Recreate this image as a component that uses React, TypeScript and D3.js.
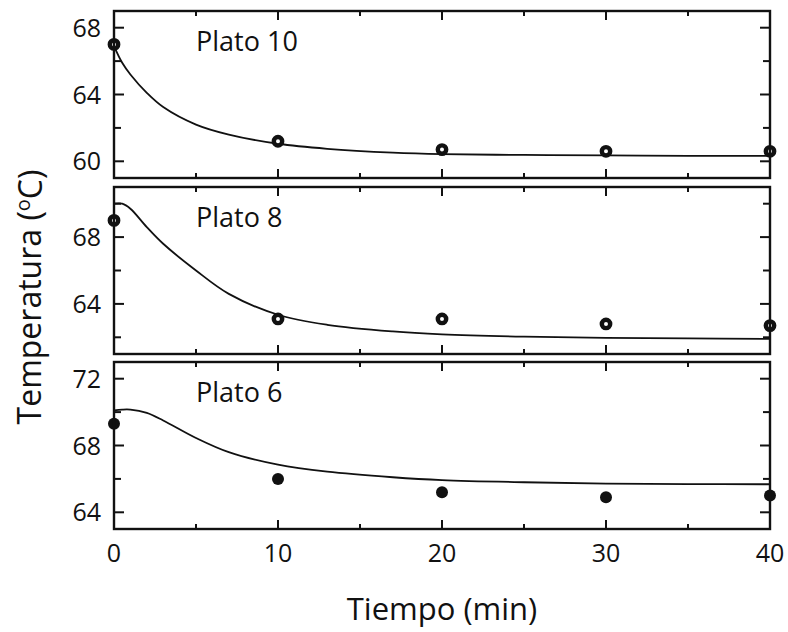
import React from 'react';
import * as d3 from 'd3';

// observed temperatures (markers)
const sampleTimes = [0, 10, 20, 30, 40];
const plato10Obs = [67.0, 61.2, 60.7, 60.6, 60.6];
const plato8Obs = [69.0, 63.1, 63.1, 62.8, 62.7];
const plato6Obs = [69.3, 66.0, 65.2, 64.9, 65.0];

// simulated profile (solid line)
const curveTimes = [0, 0.5, 1, 2, 3, 5, 7, 10, 13, 17, 20, 25, 30, 35, 40];
const plato10Model = [66.9, 65.9, 65.2, 64.1, 63.25, 62.2, 61.6, 61.05, 60.75, 60.52, 60.43, 60.38, 60.35, 60.33, 60.32];
const plato8Model = [70.0, 70.0, 69.7, 68.6, 67.6, 66.0, 64.6, 63.35, 62.75, 62.35, 62.18, 62.04, 61.97, 61.93, 61.9];
const plato6Model = [70.1, 70.15, 70.15, 69.95, 69.5, 68.45, 67.6, 66.85, 66.43, 66.1, 65.93, 65.8, 65.72, 65.69, 65.68];

const xTickLabels = [0, 10, 20, 30, 40];

const panels = [
  { label: 'Plato 10', domain: [59, 69], major: [60, 64, 68], minor: [62, 66], obs: plato10Obs, model: plato10Model, filled: false, top: 11 },
  { label: 'Plato 8', domain: [61, 71], major: [64, 68], minor: [62, 66, 70], obs: plato8Obs, model: plato8Model, filled: false, top: 187 },
  { label: 'Plato 6', domain: [63, 73], major: [64, 68, 72], minor: [66, 70], obs: plato6Obs, model: plato6Model, filled: true, top: 362 },
];

const W = 788;
const H = 632;
const left = 114;
const right = 770;
const panelH = 167;
const font = '"Open Sans", sans-serif';

const x = d3.scaleLinear().domain([0, 40]).range([left, right]);

const Panel = ({ p }: { p: typeof panels[number] }) => {
  const y = d3.scaleLinear().domain(p.domain).range([p.top + panelH, p.top]);
  const line = d3.line<number>()
    .x((_, i) => x(curveTimes[i]))
    .y(d => y(d))
    .curve(d3.curveCatmullRom.alpha(0.5));
  const bottom = p.top + panelH;
  const xt = d3.range(5, 40, 5);

  return (
    <g>
      {/* x ticks top & bottom */}
      {xt.map(t => {
        const len = t % 10 === 0 ? 9 : 5;
        return (
          <g key={'x' + t} stroke="#111" strokeWidth={2}>
            <line x1={x(t)} x2={x(t)} y1={p.top} y2={p.top + len} />
            <line x1={x(t)} x2={x(t)} y1={bottom} y2={bottom - len} />
          </g>
        );
      })}
      {/* y ticks left & right */}
      {[...p.major.map(v => [v, 10]), ...p.minor.map(v => [v, 7])].map(([v, len]) => (
        <g key={'y' + v} stroke="#111" strokeWidth={2}>
          <line x1={left} x2={left + len} y1={y(v)} y2={y(v)} />
          <line x1={right} x2={right - len} y1={y(v)} y2={y(v)} />
        </g>
      ))}
      {p.major.map(v => (
        <text key={'l' + v} x={101} y={y(v)} dy="0.36em" textAnchor="end"
          fontFamily={font} fontSize={25} fill="#111">{v}</text>
      ))}
      <path d={line(p.model) || ''} fill="none" stroke="#111" strokeWidth={1.8} />
      {p.obs.map((v, i) => (
        p.filled
          ? <circle key={'o' + i} cx={x(sampleTimes[i])} cy={y(v)} r={6} fill="#111" />
          : <circle key={'o' + i} cx={x(sampleTimes[i])} cy={y(v)} r={4.2} fill="#fff" stroke="#111" strokeWidth={4.4} />
      ))}
      <text x={196} y={p.top + 40} fontFamily={font} fontSize={27} fill="#111">{p.label}</text>
      <rect x={left} y={p.top} width={right - left} height={panelH} fill="none" stroke="#111" strokeWidth={2.4} />
    </g>
  );
};

export default function App() {
  const lastBottom = panels[2].top + panelH;
  return (
    <svg width={W} height={H} style={{ position: 'absolute', left: 0, top: 0, background: '#fff' }}>
      {panels.map(p => <Panel key={p.label} p={p} />)}
      {xTickLabels.map(t => (
        <text key={t} x={x(t)} y={lastBottom + 33} textAnchor="middle"
          fontFamily={font} fontSize={25} fill="#111">{t}</text>
      ))}
      <text x={(left + right) / 2} y={620} textAnchor="middle" fontFamily={font} fontSize={31} fill="#111">
        Tiempo (min)
      </text>
      <text transform="translate(41,297) rotate(-90)" textAnchor="middle" fontFamily={font} fontSize={32} fill="#111">
        Temperatura (<tspan fontSize={20} dy="-0.55em">o</tspan><tspan dy="0.36em">C)</tspan>
      </text>
    </svg>
  );
}
